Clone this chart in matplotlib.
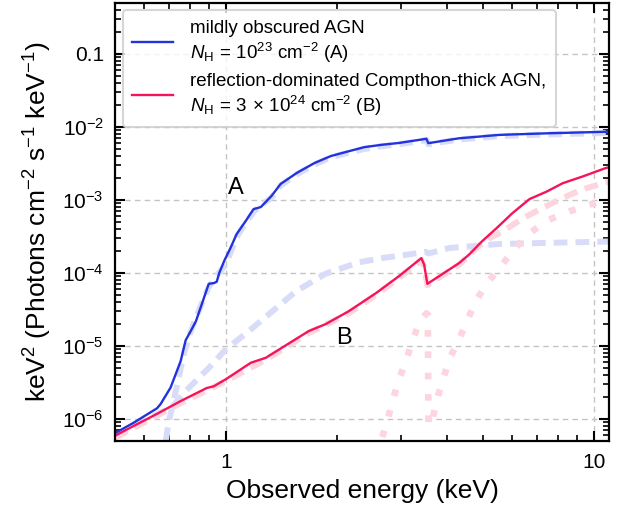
import math
import matplotlib
matplotlib.use("Agg")
import matplotlib.pyplot as plt
from matplotlib.ticker import FixedLocator, LogLocator, NullFormatter, FuncFormatter

plt.rcParams["font.family"] = ["Liberation Sans", "DejaVu Sans"]
plt.rcParams["mathtext.fontset"] = "custom"
plt.rcParams["mathtext.rm"] = "Liberation Sans"
plt.rcParams["mathtext.it"] = "Liberation Sans:italic"
plt.rcParams["mathtext.bf"] = "Liberation Sans:bold"

# model A: mildly obscured AGN (total)
e_a = [0.50, 0.56, 0.65, 0.665, 0.708, 0.754, 0.778, 0.803, 0.83, 0.899, 0.93, 0.945,
       0.96, 0.99, 1.03, 1.07, 1.134, 1.19, 1.245, 1.33, 1.41, 1.56, 1.74, 1.93, 2.14, 2.38, 2.65,
       2.96, 3.51, 3.55, 4.3, 5.55, 7.5, 10.8, 11.0]
f_a = [6.4e-7, 8.8e-7, 1.4e-6, 1.6e-6, 2.7e-6, 6.2e-6, 1.2e-5, 1.6e-5, 2.2e-5, 7.1e-5, 7.3e-5, 7.6e-5,
       1.0e-4, 1.46e-4, 2.2e-4, 3.4e-4, 5.2e-4, 7.5e-4, 8.0e-4, 1.13e-3, 1.66e-3, 2.35e-3, 3.2e-3,
       4.0e-3, 4.6e-3, 5.3e-3, 5.7e-3, 6.05e-3, 6.9e-3, 6.0e-3, 7.0e-3, 7.8e-3, 8.2e-3, 8.6e-3, 8.65e-3]

# model A components
e_a_pl = [0.687, 0.699, 0.735, 0.77, 0.80, 0.85, 0.90, 0.95, 1.0, 1.07, 1.134, 1.2, 1.33, 1.41, 1.56,
          1.74, 1.93, 2.14, 2.38, 2.65, 2.96, 3.51, 3.55, 4.3, 5.55, 7.5, 11.0]
f_a_pl = [5e-7, 8.8e-7, 2.7e-6, 8e-6, 1.5e-5, 3.3e-5, 6.5e-5, 9.5e-5, 1.3e-4, 3.1e-4, 4.9e-4, 7.2e-4,
          1.08e-3, 1.58e-3, 2.25e-3, 3.05e-3, 3.85e-3, 4.4e-3, 5.0e-3, 5.45e-3, 5.8e-3, 6.6e-3,
          5.8e-3, 6.75e-3, 7.5e-3, 7.9e-3, 8.3e-3]
e_a_sc = [0.50, 0.60, 0.714, 0.777, 0.899, 1.0, 1.155, 1.37, 1.55, 1.87, 2.30, 2.7, 3.15, 3.50, 3.55,
          4.05, 5.55, 11.0]
f_a_sc = [5.6e-7, 9.5e-7, 1.45e-6, 2.4e-6, 5.0e-6, 9e-6, 1.6e-5, 3.3e-5, 5.6e-5, 9.8e-5, 1.4e-4,
          1.62e-4, 1.8e-4, 1.95e-4, 1.85e-4, 2.2e-4, 2.5e-4, 2.7e-4]

# model B: reflection-dominated Compton-thick AGN (total)
e_b = [0.50, 0.561, 0.649, 0.754, 0.888, 0.927, 1.0, 1.17, 1.285, 1.68, 1.87, 2.16, 2.56, 2.96, 3.40,
       3.46, 3.53, 4.31, 4.59, 4.89, 4.98, 5.44, 6.01, 6.69, 7.44, 8.24, 9.33, 10.8, 11.0]
f_b = [5.9e-7, 8.0e-7, 1.17e-6, 1.76e-6, 2.66e-6, 2.8e-6, 3.5e-6, 5.9e-6, 6.9e-6, 1.6e-5, 2.0e-5,
       3.0e-5, 5.3e-5, 9.1e-5, 1.6e-4, 1.3e-4, 7.1e-5, 1.37e-4, 1.8e-4, 2.5e-4, 2.74e-4, 4.1e-4,
       6.6e-4, 1.03e-3, 1.3e-3, 1.7e-3, 2.1e-3, 2.75e-3, 2.8e-3]

# model B components
e_b_refl = [0.50, 0.754, 1.0, 1.285, 1.68, 2.16, 2.56, 2.96, 3.40, 3.46, 3.53, 4.31, 4.80, 5.21, 5.65,
            6.41, 7.27, 8.24, 9.33, 10.6, 11.0]
f_b_refl = [5.5e-7, 1.65e-6, 3.3e-6, 6.5e-6, 1.5e-5, 2.8e-5, 5.0e-5, 8.6e-5, 1.5e-4, 1.22e-4, 6.8e-5,
            1.3e-4, 2.2e-4, 3.0e-4, 3.7e-4, 5.6e-4, 7.8e-4, 1.07e-3, 1.4e-3, 1.7e-3, 1.78e-3]
e_b_tr = [2.55, 2.64, 2.74, 2.83, 2.96, 3.09, 3.21, 3.36, 3.51, 3.54, 3.555, 3.65, 3.74, 3.88, 4.05,
          4.26, 4.51, 4.74, 5.11, 5.55, 6.01, 6.69, 7.44, 8.6, 9.94, 11.0]
f_b_tr = [3e-7, 5e-7, 8.8e-7, 1.66e-6, 3.6e-6, 6.2e-6, 1.17e-5, 2.1e-5, 2.8e-5, 2.7e-5, 8e-7, 1.0e-6,
          1.78e-6, 3.3e-6, 6.6e-6, 1.1e-5, 2.1e-5, 3.8e-5, 7.1e-5, 1.17e-4, 2.0e-4, 3.5e-4, 5.2e-4,
          7.0e-4, 8.9e-4, 1.05e-3]

y_ticks = [1e-6, 1e-5, 1e-4, 1e-3, 1e-2, 0.1]

label_a = "mildly obscured AGN\n$N_\\mathrm{H}\\,=\\,10^{23}$ cm$^{-2}$ (A)"
label_b = ("reflection-dominated Compthon-thick AGN,\n"
           "$N_\\mathrm{H}\\,=\\,3\\,\\times\\,10^{24}$ cm$^{-2}$ (B)")

blue = "#2233dd"
red = "#f5145a"
light_blue = "#d9dcf8"
light_pink = "#fdd5df"

fig = plt.figure(figsize=(6.23, 5.12), dpi=100)
ax = fig.add_axes([0.1846, 0.1387, 0.7929, 0.8555])

ax.plot(e_a_sc, f_a_sc, color=light_blue, lw=4.3, dashes=(2.3, 1.35))
ax.plot(e_a_pl, f_a_pl, color=light_blue, lw=4.3, dashes=(2.3, 1.35))
ax.plot(e_b_refl, f_b_refl, color=light_pink, lw=4.3, dashes=(2.3, 1.35))
ax.plot(e_b_tr, f_b_tr, color=light_pink, lw=4.8, dashes=(1.0, 2.2))
ax.plot(e_a, f_a, color=blue, lw=1.7, label=label_a)
ax.plot(e_b, f_b, color=red, lw=1.7, label=label_b)

ax.text(1.065, 1.45e-3, "A", fontsize=17, ha="center", va="center")
ax.text(2.10, 1.29e-5, "B", fontsize=17, ha="center", va="center")

ax.set_xscale("log")
ax.set_yscale("log")
ax.set_xlim(0.5, 11)
ax.set_ylim(5e-7, 0.5)

ax.xaxis.set_major_locator(FixedLocator([1, 10]))
ax.xaxis.set_major_formatter(FuncFormatter(lambda v, p: f"{v:g}"))
ax.xaxis.set_minor_locator(LogLocator(base=10, subs=range(2, 10), numticks=20))
ax.xaxis.set_minor_formatter(NullFormatter())


def yfmt(v, pos):
    if abs(v - 0.1) < 1e-9:
        return "0.1"
    return f"$10^{{{int(round(math.log10(v)))}}}$"


ax.yaxis.set_major_locator(FixedLocator(y_ticks))
ax.yaxis.set_major_formatter(FuncFormatter(yfmt))
ax.yaxis.set_minor_locator(LogLocator(base=10, subs=range(2, 10), numticks=20))
ax.yaxis.set_minor_formatter(NullFormatter())

ax.tick_params(which="both", direction="in", top=True, right=True, width=1.5, labelsize=15)
ax.tick_params(which="major", length=7)
ax.tick_params(axis="x", which="major", pad=9)
ax.tick_params(axis="y", which="major", pad=8)
ax.tick_params(which="minor", length=4, width=1.2)
for s in ax.spines.values():
    s.set_linewidth(1.6)

ax.grid(True, which="major", color="#c4c4c4", ls=(0, (4, 3)), lw=1.0)

ax.set_xlabel("Observed energy (keV)", fontsize=19, labelpad=5)
ax.set_ylabel("keV$^2$ (Photons cm$^{-2}$ s$^{-1}$ keV$^{-1}$)", fontsize=19, labelpad=6)

leg = ax.legend(loc="upper left", fontsize=13.5, frameon=True, handlelength=2.2,
                borderaxespad=0.4, labelspacing=0.45, borderpad=0.5, handletextpad=0.9)
leg.get_frame().set_edgecolor("#cccccc")
leg.get_frame().set_linewidth(1.5)

fig.savefig("out.png", dpi=100)
